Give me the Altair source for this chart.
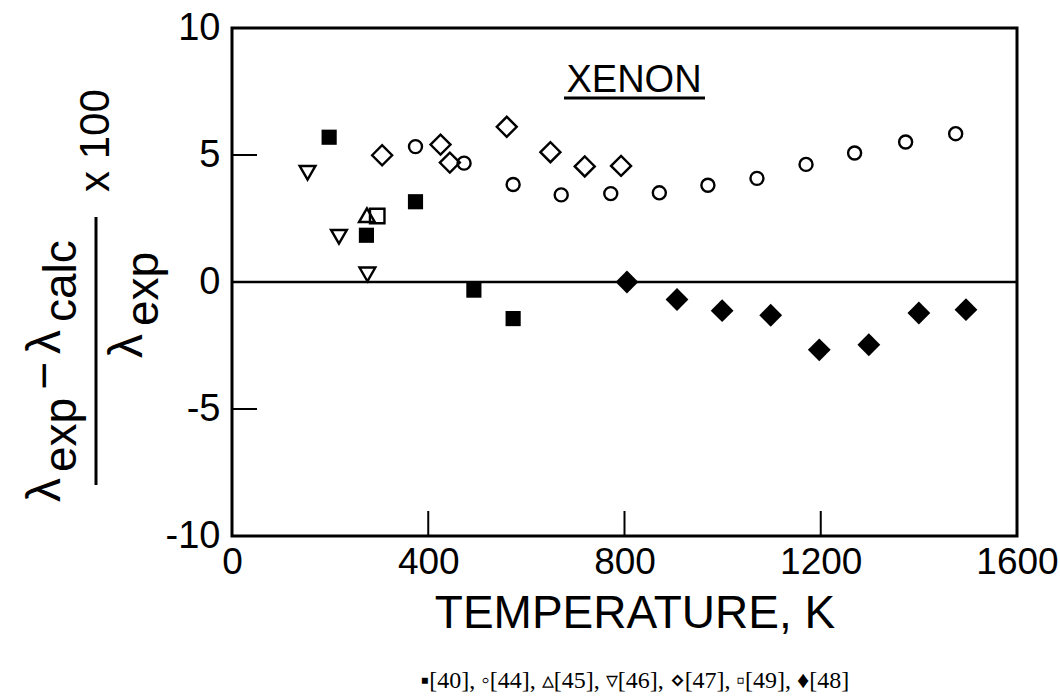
import altair as alt
import pandas as pd

# ---------------- data ----------------
sq40_T = [198, 274, 374, 493, 573]
sq40_v = [5.70, 1.84, 3.16, -0.32, -1.44]

ci44_T = [374, 473, 573, 671, 772, 871, 970, 1070, 1170, 1269, 1373, 1475]
ci44_v = [5.33, 4.68, 3.84, 3.43, 3.48, 3.51, 3.81, 4.08, 4.63, 5.08, 5.51, 5.84]

tu45_T = [275]
tu45_v = [2.63]

td46_T = [154, 218, 276]
td46_v = [4.30, 1.78, 0.30]

di47_T = [306, 425, 444, 560, 649, 719, 793]
di47_v = [4.99, 5.41, 4.70, 6.11, 5.11, 4.55, 4.57]

sq49_T = [296]
sq49_v = [2.60]

fd48_T = [805, 907, 999, 1098, 1197, 1298, 1400, 1496]
fd48_v = [0.00, -0.69, -1.13, -1.31, -2.67, -2.47, -1.22, -1.09]

x_ticks = [0, 400, 800, 1200, 1600]
y_ticks = [-10, -5, 0, 5, 10]
x_inner_ticks = [400, 800, 1200]
y_inner_ticks = [5, -5]

title_text = "XENON"
x_title = "TEMPERATURE, K"
legend_text = "▪[40], ◦[44], ▵[45], ▿[46], ⋄[47], ▫[49], ♦[48]"

# ---------------- layout ----------------
W, H = 785, 508
FONT = "Liberation Sans"

xs = alt.Scale(domain=[0, 1600], nice=False, zero=False)
ys = alt.Scale(domain=[-10, 10], nice=False, zero=False)

xaxis = alt.Axis(values=x_ticks, ticks=False, domain=False, grid=False, format="d",
                 labelFont=FONT, labelFontSize=37, labelColor="black",
                 labelPadding=8, labelFlush=False, labelAngle=0, title=None)
yaxis = alt.Axis(values=y_ticks, ticks=False, domain=False, grid=False,
                 labelFont=FONT, labelFontSize=38, labelColor="black",
                 labelPadding=12, labelFlush=False, title=None,
                 labelExpr="datum.value < 0 ? '-' + abs(datum.value) : '' + datum.value")

X = alt.X("T:Q", scale=xs, axis=xaxis)
Y = alt.Y("v:Q", scale=ys, axis=yaxis)


def pts(T, v, shape, filled, size):
    df = pd.DataFrame({"T": T, "v": v})
    return alt.Chart(df).mark_point(
        shape=shape, filled=filled, size=size, color="black",
        strokeWidth=2.4, opacity=1, fillOpacity=1
    ).encode(x=X, y=Y)


zero = alt.Chart(pd.DataFrame({"v": [0]})).mark_rule(color="black", strokeWidth=2.5).encode(y=Y)

xt = alt.Chart(pd.DataFrame({"T": x_inner_ticks})).mark_rule(color="black", strokeWidth=2).encode(
    x=X, y=alt.value(H), y2=alt.value(H - 25))
yt = alt.Chart(pd.DataFrame({"v": y_inner_ticks})).mark_rule(color="black", strokeWidth=2).encode(
    y=Y, x=alt.value(0), x2=alt.value(25))


def txt(s, px, py, size, angle=0, align="center", baseline="alphabetic", font=FONT):
    return alt.Chart(pd.DataFrame({"t": [s]})).mark_text(
        font=font, fontSize=size, angle=angle, align=align, baseline=baseline, color="black"
    ).encode(text="t:N", x=alt.value(px - 232), y=alt.value(py - 28))


def hline(x1, x2, py, w=3):
    return alt.Chart(pd.DataFrame({"a": [0]})).mark_rule(color="black", strokeWidth=w).encode(
        x=alt.value(x1 - 232), x2=alt.value(x2 - 232), y=alt.value(py - 28))


def vline(px, y1, y2, w=3):
    return alt.Chart(pd.DataFrame({"a": [0]})).mark_rule(color="black", strokeWidth=w).encode(
        x=alt.value(px - 232), y=alt.value(y1 - 28), y2=alt.value(y2 - 28))


MAIN, SUB = 48, 46
ytitle = [
    txt("λ", 60, 502, MAIN, 270, "left"),
    txt("exp", 76, 472, SUB, 270, "left"),
    txt("−", 60, 390, MAIN, 270, "left"),
    txt("λ", 60, 354, MAIN, 270, "left"),
    txt("calc", 76, 322, SUB, 270, "left"),
    vline(96, 217, 485),
    txt("x 100", 96, 192, 42, 270, "left", "middle"),
    txt("λ", 142, 358, MAIN, 270, "left"),
    txt("exp", 158, 326, SUB, 270, "left"),
]

others = [
    txt(title_text, 634, 92, 38),
    hline(564, 705, 98),
    txt(x_title, 635, 628, 46),
    txt(legend_text, 635, 688, 24, font="Liberation Serif"),
]

chart = alt.layer(
    zero, xt, yt,
    pts(sq40_T, sq40_v, "square", True, 230),
    pts(ci44_T, ci44_v, "circle", False, 170),
    pts(tu45_T, tu45_v, "triangle-up", False, 250),
    pts(td46_T, td46_v, "triangle-down", False, 250),
    pts(di47_T, di47_v, "diamond", False, 400),
    pts(sq49_T, sq49_v, "square", False, 210),
    pts(fd48_T, fd48_v, "diamond", True, 520),
    *ytitle, *others
).properties(
    width=W, height=H,
    autosize="none",
    padding={"left": 232, "top": 28, "right": 43, "bottom": 160},
    background="white",
).configure_view(stroke="black", strokeWidth=3)

chart.save("out.html", embed_options={"renderer": "svg", "actions": False})
